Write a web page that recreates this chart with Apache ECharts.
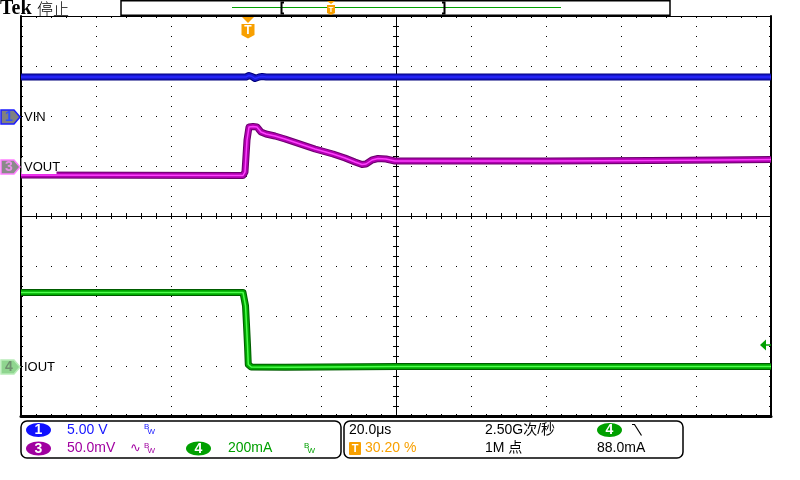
<!DOCTYPE html>
<html><head><meta charset="utf-8">
<script src="https://cdn.jsdelivr.net/npm/echarts@6/dist/echarts.min.js"></script>
<style>html,body{margin:0;padding:0;background:#fff}#c{width:800px;height:480px}</style>
</head><body><div id="c"></div>
<script>
// ---------------- data ----------------
// time in microseconds relative to trigger
const vinTime  = [-60.4, -0.4, 0.4, 1.2, 2.0, 3.1, 3.9, 5.0, 139.6];
const vinVolts = [4.0, 4.0, 4.15, 4.05, 3.85, 4.0, 4.05, 4.0, 4.0];

const voutTime = [-60.4, -1.2, -0.67, -0.13, 0.4, 1.47, 2.53, 3.6, 4.93, 7.33, 10, 14, 18, 22.8, 26, 28.67, 30.53, 31.6, 33.2, 34.8, 36.93, 39.33, 54, 80.67, 107.33, 126, 139.6];
const voutMilliVolts = [-8, -8.5, -5, 27, 40, 40.5, 40, 35, 33, 31, 28, 23, 18, 13, 9, 5, 2.5, 3, 7, 8.5, 8, 6, 6, 6, 6.5, 7, 7.5];

const ioutTime = [-60.4, -1.2, -0.8, -0.53, -0.27, 0, 0.21, 0.5, 1.0, 10, 20, 40, 139.6];
const ioutMilliAmps = [298, 298, 290, 245, 170, 88, 10, 4, 0, -1, 0, 2, 2];

// channel settings (scale per division, ground offset in divisions from centre)
const ch1 = {perDiv: 5, offsetDiv: 1.98};     // V
const ch3 = {perDiv: 50, offsetDiv: 0.98};    // mV
const ch4 = {perDiv: 200, offsetDiv: -3.02};  // mA
const timePerDiv = 20;      // us
const triggerPosPct = 30.20;
const triggerLevel = 88.0;  // mA

const channelLabels = ['VIN', 'VOUT', 'IOUT'];
const infoRow = {
  ch1Scale: '5.00 V', ch3Scale: '50.0mV', ch4Scale: '200mA',
  timebase: '20.0\u03bcs', trigPos: '30.20 %', rate: '2.50G\u6b21/\u79d2',
  points: '1M \u70b9', trigLevel: '88.0mA'
};

// ---------------- chart ----------------
const FONT = "'Liberation Sans','Noto Sans CJK SC',sans-serif";
const tStart = -triggerPosPct / 100 * 10 * timePerDiv;
const tEnd = tStart + 10 * timePerDiv;
function chRange(c){ return {min: -(4 + c.offsetDiv) * c.perDiv, max: (4 - c.offsetDiv) * c.perDiv}; }

function divAxisX(pos, lw, onZero, inside, split) {
  return {
    type: 'value', min: -5, max: 5, interval: 1, position: pos,
    axisLine: onZero ? {show: true, onZero: true, onZeroAxisIndex: 0, lineStyle: {color: '#000', width: lw}}
                     : {show: true, onZero: false, lineStyle: {color: '#000', width: lw}},
    axisTick: {show: true, inside: inside, length: onZero ? 3 : 2, lineStyle: {color: '#000', width: 1}},
    minorTick: {show: true, splitNumber: 5, length: onZero ? 3 : 2, lineStyle: {color: '#000', width: 1}},
    axisLabel: {show: false},
    splitLine: split ? {show: true, lineStyle: {color: '#000', width: 1, type: [1, 9]}} : {show: false}
  };
}
function divAxisY(pos, lw, onZero, inside, split) {
  return {
    type: 'value', min: -4, max: 4, interval: 1, position: pos,
    axisLine: onZero ? {show: true, onZero: true, onZeroAxisIndex: 0, lineStyle: {color: '#000', width: lw}}
                     : {show: true, onZero: false, lineStyle: {color: '#000', width: lw}},
    axisTick: {show: true, inside: inside, length: onZero ? 3 : 2, lineStyle: {color: '#000', width: 1}},
    minorTick: {show: true, splitNumber: 5, length: onZero ? 3 : 2, lineStyle: {color: '#000', width: 1}},
    axisLabel: {show: false},
    splitLine: split ? {show: true, lineStyle: {color: '#000', width: 1, type: [1, 14]}} : {show: false}
  };
}
function hiddenAxis(r){ return Object.assign({type: 'value', show: false, axisLine: {onZero: false}, splitLine: {show: false}}, r); }

function trace(name, xs, ys, yIdx, colors) {
  const data = xs.map((t, i) => [t, ys[i]]);
  const widths = [7, 5, 1.5];
  return colors.map((c, k) => ({
    type: 'line', name: name + k, xAxisIndex: 4, yAxisIndex: yIdx, data: data,
    showSymbol: false, symbol: 'none', silent: true, animation: false, z: 3 + k,
    lineStyle: {color: c, width: widths[k], join: 'round', cap: 'butt'}
  }));
}

const option = {
  animation: false,
  backgroundColor: '#fff',
  grid: {left: 21, top: 16, width: 750, height: 400, containLabel: false},
  xAxis: [
    divAxisX('bottom', 3, false, true, true),
    divAxisX('top', 1, false, true, false),
    divAxisX('bottom', 1, true, true, false),
    divAxisX('bottom', 1, true, false, false),
    hiddenAxis({min: tStart, max: tEnd})
  ],
  yAxis: [
    divAxisY('left', 2, false, true, true),
    divAxisY('right', 2, false, true, false),
    divAxisY('left', 1, true, true, false),
    divAxisY('left', 1, true, false, false),
    hiddenAxis(chRange(ch1)),
    hiddenAxis(chRange(ch3)),
    hiddenAxis(chRange(ch4))
  ],
  series: [].concat(
    trace('VIN', vinTime, vinVolts, 4, ['#00007a', '#1818d0', '#2a2aff']),
    trace('VOUT', voutTime, voutMilliVolts, 5, ['#6a006c', '#b000b0', '#ff40ff']),
    trace('IOUT', ioutTime, ioutMilliAmps, 6, ['#005c00', '#00a800', '#4cff4c'])
  )
};

const chart = echarts.init(document.getElementById('c'), null, {renderer: 'canvas', width: 800, height: 480});
chart.setOption(option);

const yPix = (idx, v) => chart.convertToPixel({yAxisIndex: idx}, v);
const xPix = (idx, v) => chart.convertToPixel({xAxisIndex: idx}, v);

const ORANGE = '#f8a000', BLUE = '#1414ff', PURPLE = '#a000a0', GREEN = '#00a000';
const g = [];
function txt(x, y, s, fill, size, opts) {
  g.push(Object.assign({type: 'text', x: x, y: y, z: 120, silent: true,
    style: Object.assign({text: s, fill: fill, font: (size || 14) + 'px ' + FONT, align: 'left', verticalAlign: 'middle'}, (opts && opts.style) || {})}, (opts && opts.el) || {}));
}
function marker(y, num, fill, stroke, color) {
  g.push({type: 'polygon', z: 110, silent: true, shape: {points: [[1, y - 7], [14, y - 7], [20, y], [14, y + 7], [1, y + 7]]},
    style: {fill: fill, stroke: stroke, lineWidth: 1.5}});
  txt(9, y + 0.5, num, color, 14, {style: {align: 'center', font: 'bold 14px ' + FONT}});
}

// channel ground markers and labels
const g1 = yPix(4, 0), g3 = yPix(5, 0), g4 = yPix(6, 0);
marker(g1, '1', '#808080', '#1c1cff', '#3050ff');
marker(g3, '3', '#8a8a8a', '#ff80ff', '#e890e8');
marker(g4, '4', '#8fd58f', '#b8ecb8', '#6f8f6f');
txt(24, g1, channelLabels[0], '#000', 13);
g.push({type: 'rect', z: 115, silent: true, shape: {x: 21.5, y: g3 - 9, width: 35, height: 16}, style: {fill: '#fff'}});
txt(24, g3, channelLabels[1], '#000', 13);
txt(24, g4, channelLabels[2], '#000', 13);

// trigger level arrow (right)
const tl = yPix(6, triggerLevel);
g.push({type: 'polygon', z: 110, silent: true, shape: {points: [[760, tl], [766, tl - 5.5], [766, tl + 5.5]]}, style: {fill: GREEN}});
g.push({type: 'line', z: 110, silent: true, shape: {x1: 766, y1: tl, x2: 771, y2: tl}, style: {stroke: GREEN, lineWidth: 1.5}});

// trigger position marker (top)
const tx = Math.round(xPix(4, 0));
g.push({type: 'polygon', z: 110, silent: true, shape: {points: [[tx - 6, 17], [tx + 6, 17], [tx, 23]]}, style: {fill: ORANGE}});
g.push({type: 'polygon', z: 110, silent: true, shape: {points: [[tx - 6.5, 24], [tx + 6.5, 24], [tx + 6.5, 35], [tx, 38.5], [tx - 6.5, 35]]}, style: {fill: ORANGE}});
txt(tx, 30.5, 'T', '#fff', 12, {style: {align: 'center', font: 'bold 12px ' + FONT}});

// top bar
txt(0, 9, 'Tek', '#000', 20, {style: {font: 'bold 20px "Liberation Serif", serif'}});
txt(37, 9, '\u505c\u6b62', '#000', 16, {style: {font: '300 16px "Noto Sans CJK SC", sans-serif'}});
g.push({type: 'rect', z: 100, silent: true, shape: {x: 121, y: 0.75, width: 549, height: 14.5}, style: {fill: '#fff', stroke: '#000', lineWidth: 1.5}});
g.push({type: 'line', z: 101, silent: true, shape: {x1: 232, y1: 7.5, x2: 561, y2: 7.5}, style: {stroke: GREEN, lineWidth: 1}});
g.push({type: 'polyline', z: 102, silent: true, shape: {points: [[284, 2.5], [281.5, 2.5], [281.5, 13.5], [284, 13.5]]}, style: {stroke: '#000', lineWidth: 2, fill: null}});
g.push({type: 'polyline', z: 102, silent: true, shape: {points: [[442, 2.5], [444.5, 2.5], [444.5, 13.5], [442, 13.5]]}, style: {stroke: '#000', lineWidth: 2, fill: null}});
g.push({type: 'polygon', z: 102, silent: true, shape: {points: [[327, 1], [335, 1], [331, 4]]}, style: {fill: ORANGE}});
g.push({type: 'polygon', z: 102, silent: true, shape: {points: [[327, 5], [335, 5], [335, 13], [331, 15], [327, 13]]}, style: {fill: ORANGE}});
txt(331, 10, 'T', '#fff', 8, {style: {align: 'center', font: 'bold 8px ' + FONT}});

// bottom info boxes
g.push({type: 'rect', z: 100, silent: true, shape: {x: 21, y: 421, width: 320, height: 37, r: 6}, style: {fill: '#fff', stroke: '#000', lineWidth: 1.5}});
g.push({type: 'rect', z: 100, silent: true, shape: {x: 344, y: 421, width: 339, height: 37, r: 6}, style: {fill: '#fff', stroke: '#000', lineWidth: 1.5}});
function badge(cx, cy, num, fill) {
  g.push({type: 'ellipse', z: 110, silent: true, shape: {cx: cx, cy: cy, rx: 12.5, ry: 7}, style: {fill: fill}});
  txt(cx, cy + 0.5, num, '#fff', 14, {style: {align: 'center', font: 'bold 14px ' + FONT}});
}
function bw(x, y, color) {
  txt(x, y - 3, 'B', color, 8);
  txt(x + 3.5, y + 2, 'W', color, 8);
}
const r1 = 430, r2 = 448.5;
badge(38.5, r1, '1', '#1010ff');
txt(67, r1, infoRow.ch1Scale, BLUE, 14);
bw(144, r1, BLUE);
badge(38.5, r2, '3', PURPLE);
txt(67, r2, infoRow.ch3Scale, PURPLE, 14);
txt(130, r2, '\u223f', PURPLE, 13, {style: {font: '13px "DejaVu Sans", sans-serif'}});
bw(144, r2, PURPLE);
badge(198.5, r2, '4', GREEN);
txt(228, r2, infoRow.ch4Scale, GREEN, 14);
bw(304, r2, GREEN);

txt(349, r1, infoRow.timebase, '#000', 14);
g.push({type: 'rect', z: 110, silent: true, shape: {x: 349, y: 442, width: 12, height: 13, r: 1}, style: {fill: ORANGE}});
txt(355, r2 + 0.5, 'T', '#fff', 11, {style: {align: 'center', font: 'bold 11px ' + FONT}});
txt(365, r2, infoRow.trigPos, ORANGE, 14);
txt(485, r1, infoRow.rate, '#000', 14);
txt(485, r2, infoRow.points, '#000', 14);
badge(609.5, r1, '4', GREEN);
g.push({type: 'polyline', z: 110, silent: true, shape: {points: [[632, 424.5], [634.5, 424.5], [641.5, 435.5]]}, style: {stroke: '#000', lineWidth: 1.2, fill: null}});
txt(597, r2, infoRow.trigLevel, '#000', 14);

chart.setOption({graphic: {elements: g}});
</script>
</body></html>
